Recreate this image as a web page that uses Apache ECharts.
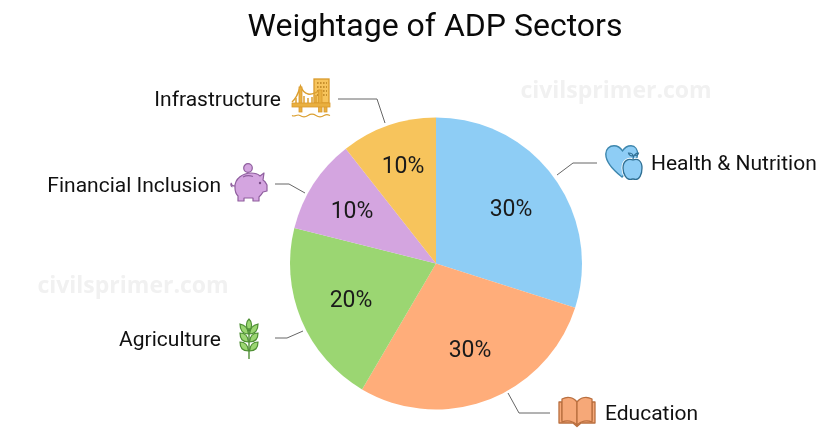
<!DOCTYPE html>
<html>
<head>
<meta charset="utf-8">
<style>html,body{margin:0;padding:0;background:#fff}#main{width:832px;height:445px}</style>
<script src="https://cdn.jsdelivr.net/npm/echarts@6/dist/echarts.min.js"></script>
</head>
<body>
<div id="main"></div>
<script>
var titleText = 'Weightage of ADP Sectors';
var sectors = ['Health & Nutrition', 'Education', 'Agriculture', 'Financial Inclusion', 'Infrastructure'];
// printed percentages
var percentLabels = ['30%', '30%', '20%', '10%', '10%'];
// slice sizes as actually drawn in the picture (they differ a little from the printed numbers)
var sliceShares = [29.9, 28.55, 20.45, 10.5, 10.6];
var sliceColors = ['#8ecdf5', '#ffad7a', '#9bd672', '#d4a5e0', '#f7c45c'];

// label layout, same order as sectors
var nameLayout = [
    {x: 651, y: 165, align: 'left'},
    {x: 605, y: 415, align: 'left'},
    {x: 221, y: 341, align: 'right'},
    {x: 221, y: 187, align: 'right'},
    {x: 281, y: 101, align: 'right'}
];
var percentLayout = [[511, 210], [470, 351], [351, 301], [352, 212], [403, 167]];
var leaders = [
    [[557, 175], [573, 163], [597, 163]],
    [[508, 393], [519, 413], [550, 413]],
    [[303, 331], [287, 338], [275, 338]],
    [[305, 193], [289, 184], [275, 184]],
    [[385, 123], [377, 99], [338, 99]]
];

function svgIcon(w, h, body) {
    var s = '<svg xmlns="http://www.w3.org/2000/svg" width="' + w * 4 + '" height="' + h * 4 +
        '" viewBox="0 0 ' + w + ' ' + h + '">' + body + '</svg>';
    return 'data:image/svg+xml;charset=utf-8,' + encodeURIComponent(s);
}

var iconBridge = svgIcon(40, 40,
    '<rect x="23" y="1" width="15" height="24" fill="#f7c45c" stroke="#d99a2b" stroke-width="1.300"/>' +
    '<path d="M26 5h10M26 9h10M26 13h10M26 17h10" stroke="#b87f1e" stroke-width="1.500" stroke-dasharray="1.600 1.400"/>' +
    '<g fill="none" stroke="#dba032" stroke-width="1.500">' +
    '<path d="M1 24 Q6 20 9.500 8 Q15 22 29 12"/>' +
    '<path d="M13 18V26M17 20V26M21 19V26M25 17V26M5 20V26"/>' +
    '<path d="M1 37.500c3 2 5 -2 8 0s5 2 8 0 5 -2 8 0 5 2 8 0 4 -1 6 0" stroke-width="1.200"/>' +
    '</g>' +
    '<g fill="#e9b040" stroke="#d99a2b" stroke-width="0.800">' +
    '<rect x="8" y="9" width="3" height="25"/><rect x="27.500" y="12" width="3.500" height="22"/>' +
    '<rect x="33" y="26" width="3" height="8"/>' +
    '<rect x="1" y="25" width="38" height="4"/>' +
    '</g>');

var iconPiggy = svgIcon(38, 40,
    '<circle cx="18" cy="5" r="4.300" fill="#d4a5e0" stroke="#8f5f9e" stroke-width="1.200"/>' +
    '<path d="M5 23c-2 0 -4 -1 -3.500 -3M1.500 20c-1 1 -1 3 1 4" fill="none" stroke="#8f5f9e" stroke-width="1.200"/>' +
    '<path d="M5 25C4 15 14 10 21 10c4 0 7 1 9 3l4 -3 -1 7c2 1 3 3 4 5v6l-4 1c-1 2 -3 4 -4 5v4h-6v-3H14v3H8v-5c-2 -2 -3 -5 -3 -8z" fill="#d4a5e0" stroke="#8f5f9e" stroke-width="1.200" stroke-linejoin="round"/>' +
    '<path d="M13 14c3 -1.500 7 -1.500 10 -0.500" fill="none" stroke="#8f5f9e" stroke-width="1.200"/>' +
    '<circle cx="30" cy="20" r="1.200" fill="#7a4d88"/>');

var iconHeart = svgIcon(38, 35,
    '<path d="M17 32C8 25 0.800 17 0.800 9 0.800 4 4.500 0.800 9 0.800c3.500 0 6.500 2 8.500 5 2 -3 5 -5 8.500 -5 4.500 0 6.500 4 6.500 8 0 4 -2 8 -5 12z" fill="#8ecdf5" stroke="#3d86ad" stroke-width="1.400"/>' +
    '<path d="M28 15c-5 -2 -10 1 -10 8 0 7 4 11.500 7 11.500 1 0 2 -0.500 3 -0.500s2 0.500 3 0.500c3 0 6 -4.500 6 -11.500 0 -7 -4 -10 -9 -8z" fill="#8ecdf5" stroke="#fff" stroke-width="3"/>' +
    '<path d="M28 15c-5 -2 -10 1 -10 8 0 7 4 11.500 7 11.500 1 0 2 -0.500 3 -0.500s2 0.500 3 0.500c3 0 6 -4.500 6 -11.500 0 -7 -4 -10 -9 -8z" fill="#8ecdf5" stroke="#2f6f93" stroke-width="1.300"/>' +
    '<path d="M28 15c0 -3 0.500 -4 1.500 -5M28 11c-2 0 -4 -1 -4.500 -3 2.500 0 4.500 1 4.500 3zM29.500 10c1 -1.500 2.500 -2 4 -2 -0.500 2 -2 3 -4 2z" fill="none" stroke="#2f6f93" stroke-width="1.100"/>');

var iconBook = svgIcon(38, 32,
    '<g fill="#f6a878" stroke="#b96f3f" stroke-width="1.300" stroke-linejoin="round">' +
    '<path d="M1 6V27H15L19 30.500 23 27H37V6H34V24H4V6z"/>' +
    '<path d="M4 3c5 -2.500 11 -2 15 3V29c-4 -4 -10 -5 -15 -3z"/>' +
    '<path d="M34 3c-5 -2.500 -11 -2 -15 3V29c4 -4 10 -5 15 -3z"/>' +
    '</g>');

var iconWheat = svgIcon(20, 42,
    '<g fill="#9bd672" stroke="#4f8f35" stroke-width="1.200">' +
    '<path d="M10 1c3.500 3 3.500 9 0 12 -3.500 -3 -3.500 -9 0 -12z"/>' +
    '<path d="M1 6c5 1 8 4 8.500 10 -6 0 -8.500 -4 -8.500 -10zM19 6c-5 1 -8 4 -8.500 10 6 0 8.500 -4 8.500 -10z"/>' +
    '<path d="M1 15c5 0 8 3 8.500 9 -6 0 -8.500 -3 -8.500 -9zM19 15c-5 0 -8 3 -8.500 9 6 0 8.500 -3 8.500 -9z"/>' +
    '<path d="M1 24c5 0 8 3 8.500 9 -6 0 -8.500 -3 -8.500 -9zM19 24c-5 0 -8 3 -8.500 9 6 0 8.500 -3 8.500 -9z"/>' +
    '</g>' +
    '<path d="M10 10V41" stroke="#4f8f35" stroke-width="1.400"/>');

function icon(src, x, y, w, h) {
    return {type: 'image', silent: true, style: {image: src, x: x, y: y, width: w, height: h}};
}
function watermark(text, x, y) {
    return {
        type: 'text', silent: true,
        style: {text: text, x: x, y: y, fill: '#f1f1f1', font: 'bold 23px "Open Sans"', align: 'center', verticalAlign: 'middle'}
    };
}

var graphics = [
    watermark('civilsprimer.com', 616, 91),
    watermark('civilsprimer.com', 133, 286),
    icon(iconHeart, 605, 145, 38, 35),
    icon(iconBook, 558, 396, 38, 32),
    icon(iconWheat, 239, 318, 20, 42),
    icon(iconPiggy, 230, 163, 38, 40),
    icon(iconBridge, 291, 78, 40, 40)
];
leaders.forEach(function (pts) {
    graphics.push({type: 'polyline', silent: true, shape: {points: pts}, style: {fill: null, stroke: '#666', lineWidth: 1}});
});

var pieData = sectors.map(function (name, i) {
    return {name: name, value: sliceShares[i], itemStyle: {color: sliceColors[i]}};
});

var myChart = echarts.init(document.getElementById('main'));
myChart.setOption({
    backgroundColor: '#fff',
    animation: false,
    title: {
        text: titleText, left: 430, top: 7, textAlign: 'center',
        textStyle: {fontFamily: 'Roboto', fontSize: 32, fontWeight: 'normal', color: '#0a0a0a'}
    },
    graphic: graphics,
    series: [
        {
            type: 'pie', center: [436, 263.5], radius: [0, 146], startAngle: 90, clockwise: true,
            silent: true,
            data: pieData,
            itemStyle: {borderColor: '#fff', borderWidth: 2},
            label: {
                show: true, position: 'inside',
                fontFamily: 'Roboto', fontSize: 23, color: '#1a1a1a',
                formatter: function (p) { return percentLabels[p.dataIndex]; }
            },
            labelLine: {show: false},
            labelLayout: function (p) {
                var pos = percentLayout[p.dataIndex];
                return {x: pos[0], y: pos[1], align: 'center', verticalAlign: 'middle'};
            }
        },
        {
            // second ring on top only carries the sector names
            type: 'pie', center: [436, 263.5], radius: [0, 146], startAngle: 90, clockwise: true,
            silent: true,
            data: pieData,
            itemStyle: {color: 'transparent', borderWidth: 0},
            label: {
                show: true, position: 'outside',
                fontFamily: 'Roboto', fontSize: 21, color: '#111',
                formatter: '{b}'
            },
            labelLine: {show: false},
            labelLayout: function (p) {
                var l = nameLayout[p.dataIndex];
                return {x: l.x, y: l.y, align: l.align, verticalAlign: 'middle'};
            }
        }
    ]
});
</script>
</body>
</html>
